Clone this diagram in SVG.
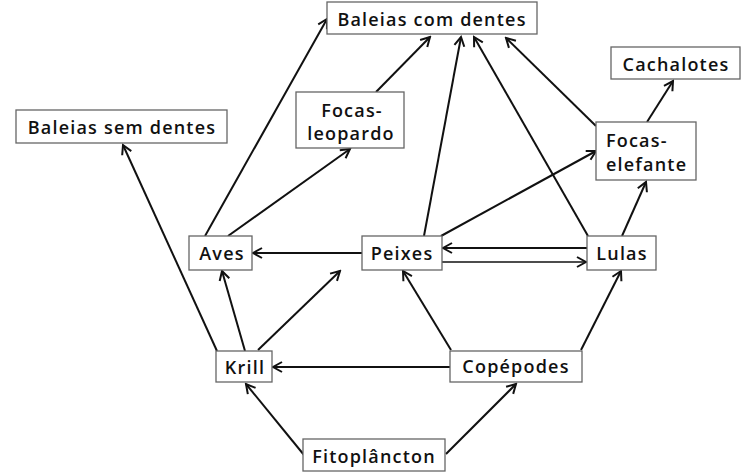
<svg xmlns="http://www.w3.org/2000/svg" width="748" height="476" viewBox="0 0 748 476">
<style>
.box{fill:#fff;stroke:#666;stroke-width:1.3}
.t{font-family:"Open Sans","Liberation Sans",sans-serif;font-size:18px;font-weight:600;fill:#111;text-anchor:middle;letter-spacing:1.2px}
.l{text-anchor:start}
.c{stroke:#111;stroke-width:2;fill:none;marker-end:url(#a)}
.thin{stroke-width:1.5}
</style>
<defs>
<marker id="a" markerUnits="userSpaceOnUse" markerWidth="12" markerHeight="14" refX="10" refY="6" orient="auto" viewBox="0 0 12 12">
<path d="M1,1 L10,6 L1,11" fill="none" stroke="#111" stroke-width="2"/>
</marker>
</defs>
<rect width="748" height="476" fill="#fff"/>
<g id="connectors">
<line class="c" x1="217" y1="351" x2="123" y2="145"/>
<line class="c" x1="205" y1="236" x2="327" y2="19"/>
<line class="c" x1="228" y1="236" x2="350" y2="149"/>
<line class="c" x1="376" y1="92" x2="430" y2="37"/>
<line class="c" x1="424" y1="236" x2="461" y2="37"/>
<line class="c" x1="588" y1="236" x2="474" y2="37"/>
<line class="c" x1="596" y1="126" x2="506" y2="38"/>
<line class="c" x1="647" y1="122" x2="673" y2="81"/>
<line class="c" x1="441" y1="236" x2="596" y2="151"/>
<line class="c" x1="622" y1="236" x2="646" y2="182"/>
<line class="c" x1="362" y1="253" x2="253" y2="253"/>
<line class="c" x1="587" y1="248" x2="443" y2="248"/>
<line class="c thin" x1="442" y1="262" x2="586" y2="262"/>
<line class="c" x1="245" y1="351" x2="222" y2="271"/>
<line class="c" x1="258" y1="350" x2="340" y2="271"/>
<line class="c" x1="450" y1="367" x2="273" y2="367"/>
<line class="c" x1="451" y1="350" x2="403" y2="271"/>
<line class="c" x1="581" y1="350" x2="621" y2="271"/>
<line class="c" x1="304" y1="455" x2="246" y2="384"/>
<line class="c" x1="446" y1="454" x2="516" y2="384"/>
</g>
<g id="baleias-com-dentes"><rect class="box" x="327" y="2" width="210" height="32"/><text class="t" x="432" y="26">Baleias com dentes</text></g>
<g id="baleias-sem-dentes"><rect class="box" x="16" y="110" width="211" height="33"/><text class="t" x="122" y="134">Baleias sem dentes</text></g>
<g id="focas-leopardo"><rect class="box" x="296" y="92" width="108" height="56"/><text class="t" x="352" y="117">Focas-</text><text class="t" x="351" y="140">leopardo</text></g>
<g id="cachalotes"><rect class="box" x="611" y="47" width="129" height="32"/><text class="t" x="676" y="71">Cachalotes</text></g>
<g id="focas-elefante"><rect class="box" x="596" y="122" width="100" height="58"/><text class="t l" x="606" y="147">Focas-</text><text class="t l" x="606" y="171">elefante</text></g>
<g id="aves"><rect class="box" x="189" y="236" width="63" height="34"/><text class="t" x="222" y="260">Aves</text></g>
<g id="peixes"><rect class="box" x="362" y="236" width="80" height="34"/><text class="t" x="402" y="260">Peixes</text></g>
<g id="lulas"><rect class="box" x="587" y="236" width="69" height="34"/><text class="t" x="622" y="260">Lulas</text></g>
<g id="krill"><rect class="box" x="216" y="351" width="56" height="31"/><text class="t" x="245" y="374">Krill</text></g>
<g id="copepodes"><rect class="box" x="450" y="351" width="132" height="31"/><text class="t" x="516" y="373">Copépodes</text></g>
<g id="fitoplancton"><rect class="box" x="303" y="439" width="142" height="32"/><text class="t" x="374" y="463">Fitoplâncton</text></g>
</svg>
